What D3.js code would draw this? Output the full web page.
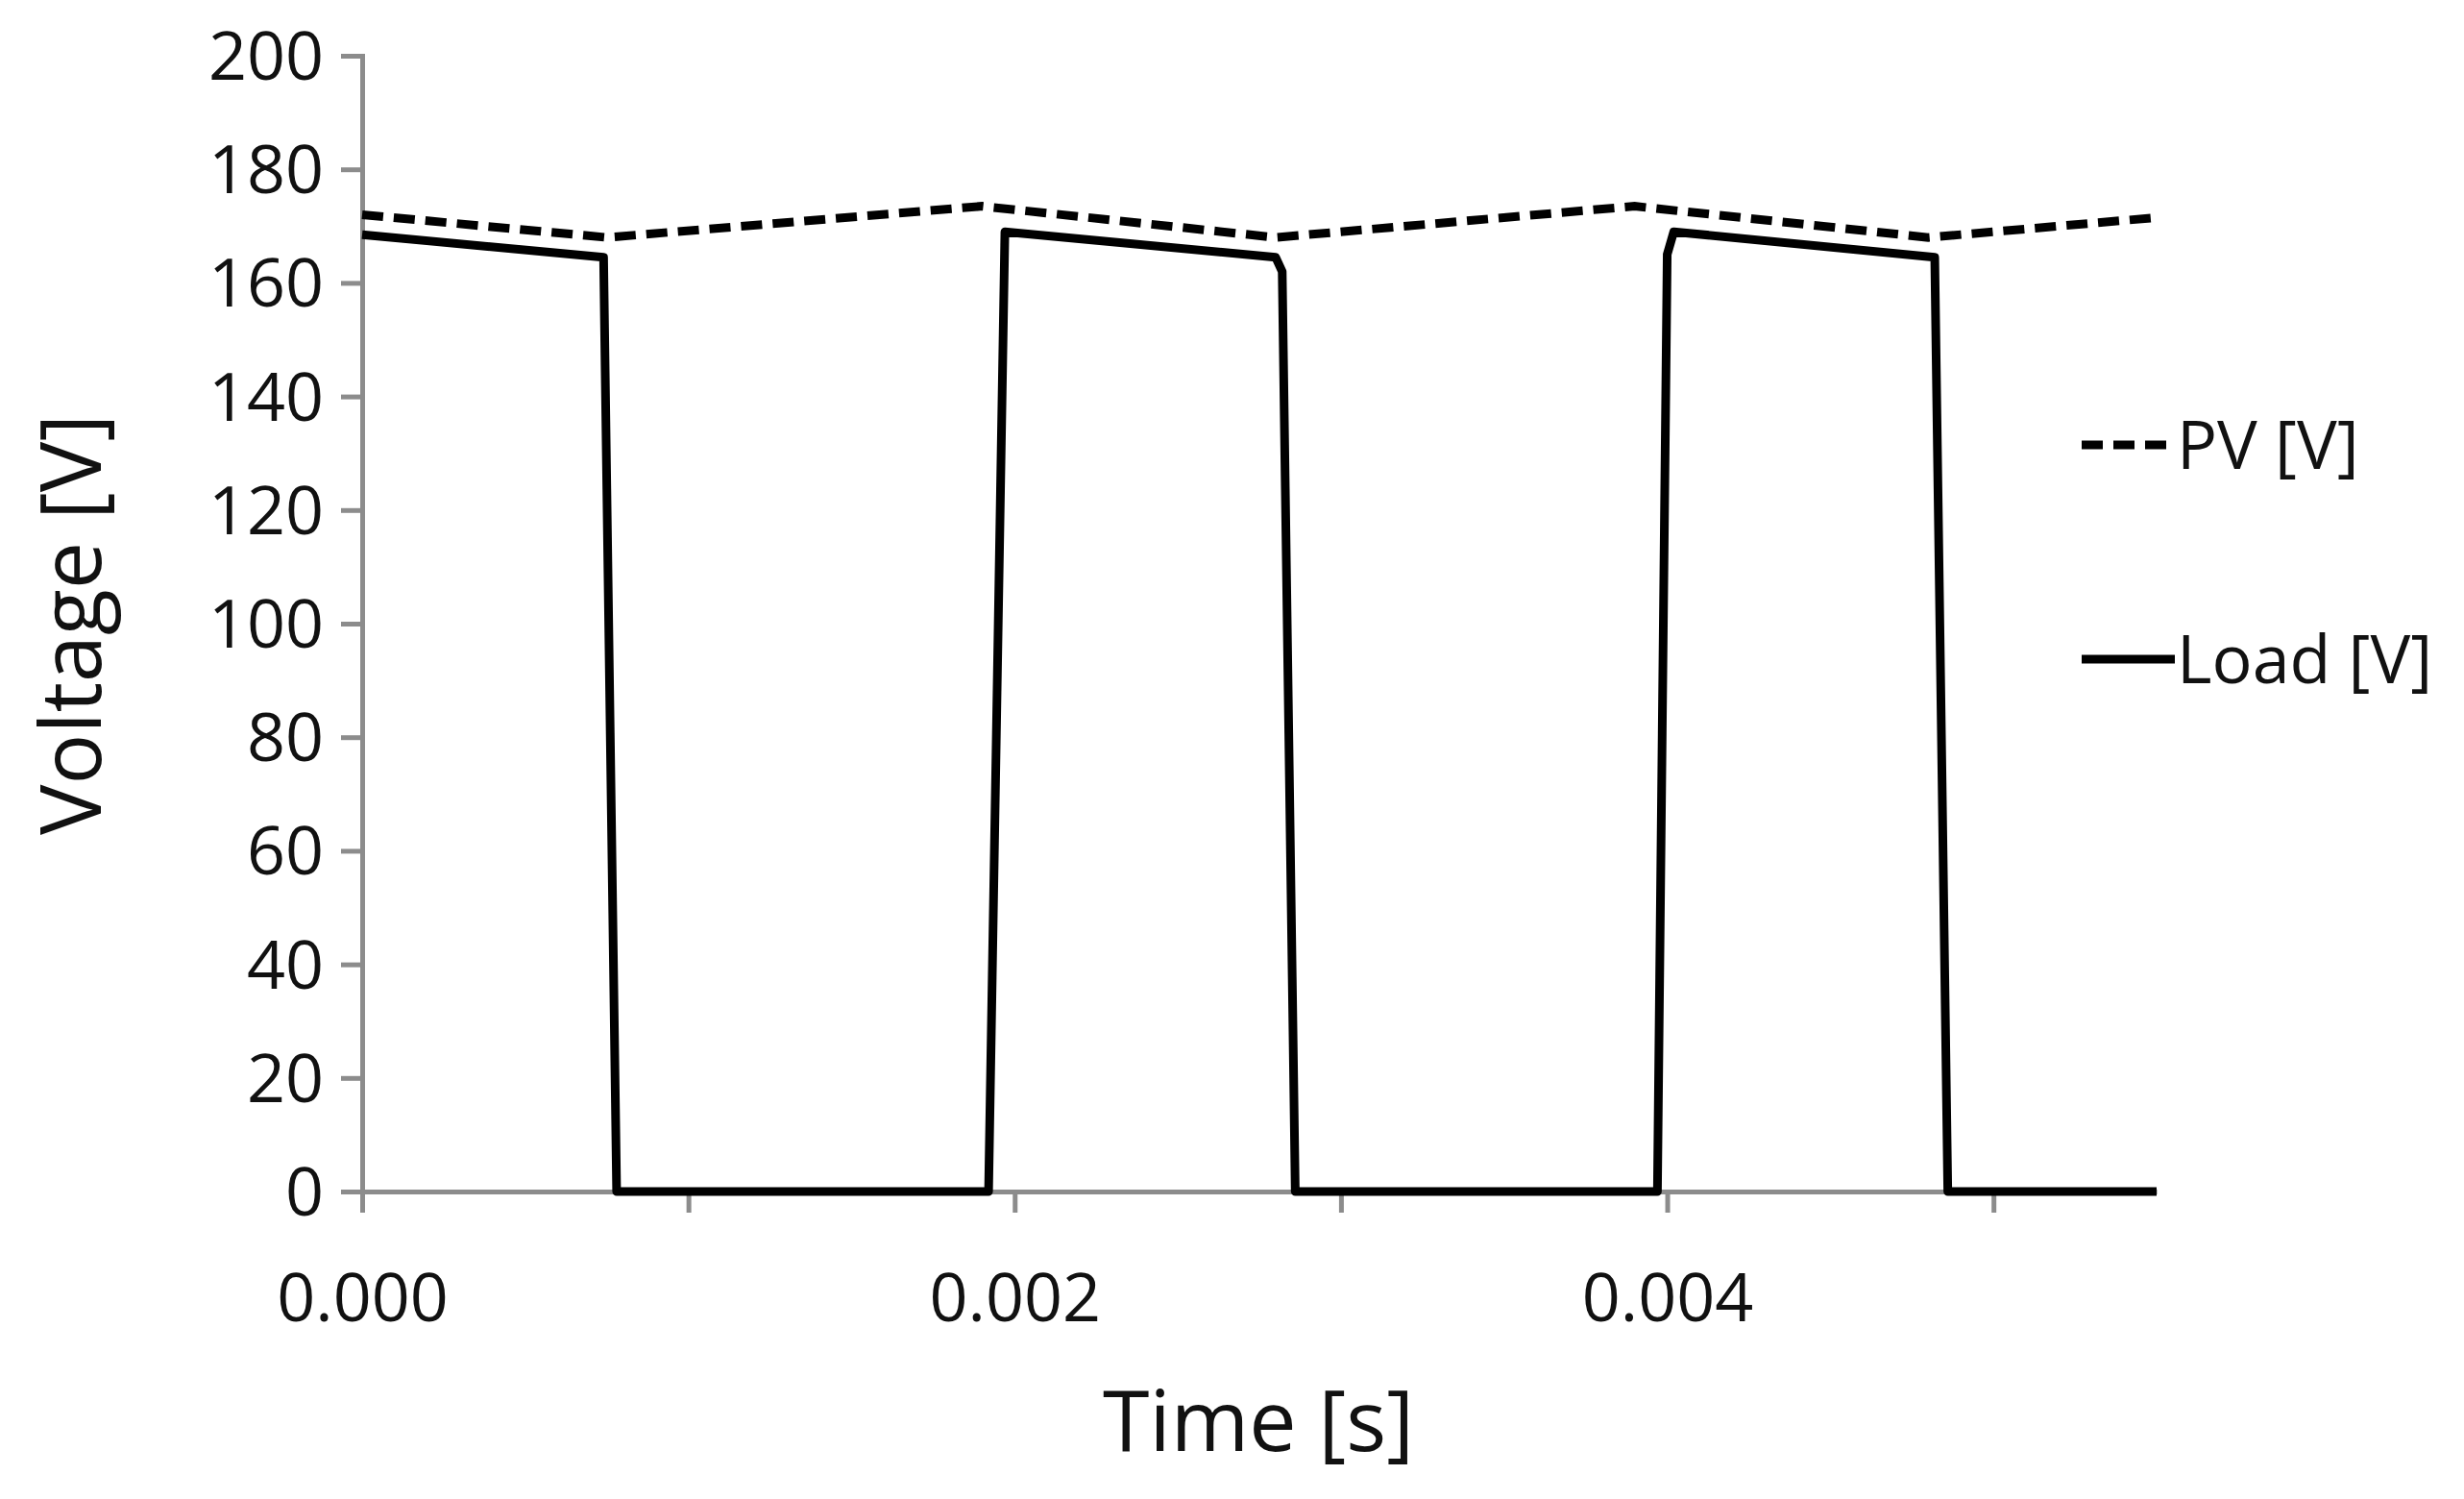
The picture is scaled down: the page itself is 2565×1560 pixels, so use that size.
<!DOCTYPE html>
<html><head><meta charset="utf-8">
<script src="https://cdn.jsdelivr.net/npm/d3@7"></script>
<style>body{margin:0;background:#fff}text{font-family:"Open Sans",sans-serif;fill:#111}</style>
</head><body><div id="vizContainer"></div>
<script>
// series
var pvTime = [0, 0.00075, 0.0019, 0.0028, 0.0039, 0.0048, 0.0055];
var pvVolt = [172, 168, 173.5, 168, 173.5, 168, 171.5];
var loadTime = [0, 0.00074, 0.00078, 0.00192, 0.00197, 0.0028, 0.00282, 0.00286, 0.00397, 0.004, 0.00402, 0.00482, 0.00486, 0.0055];
var loadVolt = [168.5, 164.5, 0, 0, 169, 164.5, 162, 0, 0, 165, 169, 164.5, 0, 0];
var yTicks = [0, 20, 40, 60, 80, 100, 120, 140, 160, 180, 200];
var xTicks = [0, 0.001, 0.002, 0.003, 0.004, 0.005];
var xLabels = [0, 0.002, 0.004];

var W = 2565, H = 1560;
var svg = d3.select('#vizContainer').append('svg')
    .attr('width', W).attr('height', H).attr('viewBox', '0 0 ' + W + ' ' + H);

var x = d3.scaleLinear().domain([0, 0.0055]).range([377, 2245]);
var y = d3.scaleLinear().domain([0, 200]).range([1240, 58]);

// y axis
var yAxis = svg.append('g').attr('transform', 'translate(377,0)')
    .call(d3.axisLeft(y).tickValues(yTicks).tickSize(22).tickPadding(18));
yAxis.selectAll('text').style('font-size', '70px').attr('dy', '0.35em');
// x axis
var xAxis = svg.append('g').attr('transform', 'translate(0,1240)')
    .call(d3.axisBottom(x).tickValues(xTicks).tickSizeInner(22).tickSizeOuter(0)
        .tickFormat(function(d){ return xLabels.some(function(v){return Math.abs(v-d)<1e-9;}) ? d3.format('.3f')(d) : ''; }));
xAxis.selectAll('text').style('font-size', '70px').attr('y', 85);
svg.selectAll('.domain, .tick line').attr('stroke', '#8c8c8c').attr('stroke-width', 5);

var line = d3.line().x(function(d){return x(d[0]);}).y(function(d){return y(d[1]);});
svg.append('path').datum(d3.zip(pvTime, pvVolt)).attr('d', line)
    .attr('fill', 'none').attr('stroke', '#000').attr('stroke-width', 9).attr('stroke-dasharray', '22,11');
svg.append('path').datum(d3.zip(loadTime, loadVolt)).attr('d', line)
    .attr('fill', 'none').attr('stroke', '#000').attr('stroke-width', 9).attr('stroke-linejoin', 'round');

// axis titles
svg.append('text').attr('x', 1310).attr('y', 1510).attr('text-anchor', 'middle')
    .style('font-size', '88px').text('Time [s]');
svg.append('text').attr('transform', 'translate(105,650) rotate(-90)').attr('text-anchor', 'middle')
    .style('font-size', '88px').text('Voltage [V]');

// legend
var legend = [{name: 'PV [V]', dash: '22,11', y: 463}, {name: 'Load [V]', dash: null, y: 686}];
legend.forEach(function(l){
    svg.append('line').attr('x1', 2167).attr('x2', 2264).attr('y1', l.y).attr('y2', l.y)
        .attr('stroke', '#000').attr('stroke-width', 9).attr('stroke-dasharray', l.dash);
    svg.append('text').attr('x', 2266).attr('y', l.y).attr('dy', '0.35em')
        .style('font-size', '70px').text(l.name);
});
</script></body></html>
